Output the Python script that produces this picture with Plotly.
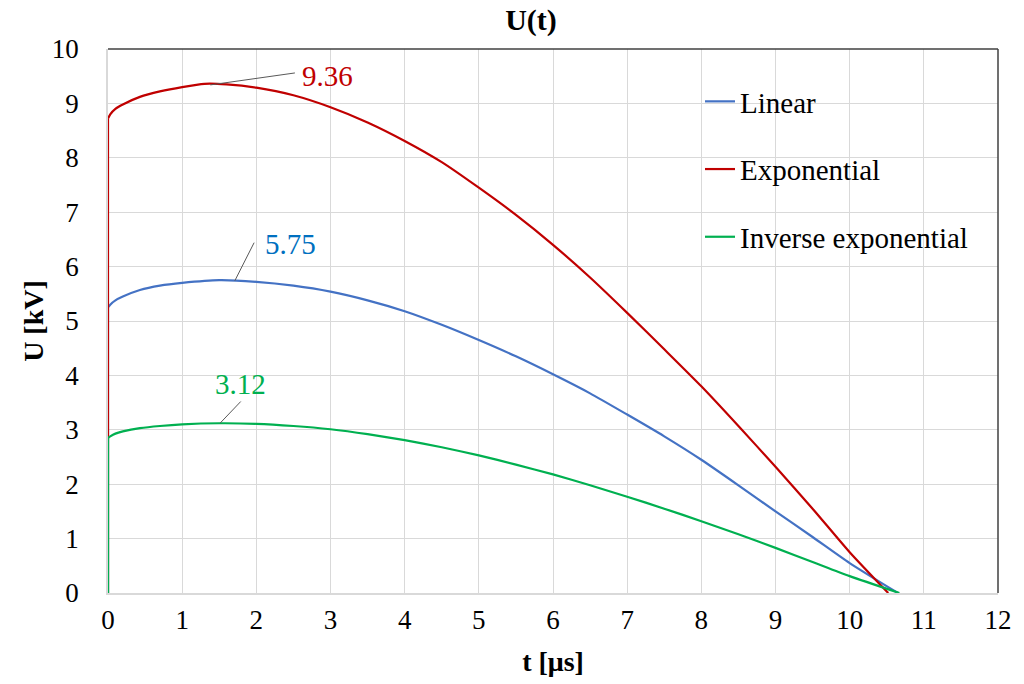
import plotly.graph_objects as go

# ---- data ----
t_lin = [0, 0, 0.03, 0.1, 0.2, 0.43, 0.7, 1.0, 1.5, 2.0, 2.5, 3.0, 3.5, 4.0, 4.5, 5.0, 5.5, 6.0, 6.5, 7.0, 7.5, 8.0, 8.5, 9.0, 9.5, 10.0, 10.65]
u_lin = [0, 5.25, 5.30, 5.38, 5.45, 5.57, 5.65, 5.70, 5.75, 5.72, 5.65, 5.54, 5.38, 5.18, 4.93, 4.65, 4.35, 4.02, 3.67, 3.28, 2.88, 2.45, 1.98, 1.50, 1.03, 0.55, 0]

t_exp = [0, 0, 0.03, 0.1, 0.2, 0.43, 0.7, 1.0, 1.3, 1.6, 2.0, 2.5, 3.0, 3.5, 4.0, 4.5, 5.0, 5.5, 6.0, 6.5, 7.0, 7.5, 8.0, 8.5, 9.0, 9.5, 10.0, 10.52]
u_exp = [0, 8.72, 8.80, 8.90, 8.98, 9.12, 9.22, 9.30, 9.36, 9.35, 9.29, 9.15, 8.93, 8.65, 8.31, 7.92, 7.45, 6.95, 6.40, 5.80, 5.15, 4.48, 3.80, 3.07, 2.32, 1.55, 0.75, 0]

t_inv = [0, 0, 0.03, 0.1, 0.2, 0.43, 0.7, 1.0, 1.5, 2.0, 2.5, 3.0, 3.5, 4.0, 4.5, 5.0, 5.5, 6.0, 6.5, 7.0, 7.5, 8.0, 8.5, 9.0, 9.5, 10.0, 10.67]
u_inv = [0, 2.85, 2.88, 2.93, 2.97, 3.03, 3.07, 3.10, 3.12, 3.11, 3.07, 3.01, 2.92, 2.81, 2.68, 2.53, 2.36, 2.18, 1.98, 1.77, 1.55, 1.32, 1.08, 0.83, 0.57, 0.31, 0]

series_names = ["Linear", "Exponential", "Inverse exponential"]
series_colors = ["#4472C4", "#C00000", "#00B050"]

# peak labels
peak_text = ["5.75", "9.36", "3.12"]
peak_label_colors = ["#0070C0", "#C00000", "#00B050"]
peak_point = [(1.71, 5.74), (1.38, 9.34), (1.51, 3.12)]
label_point = [(1.97, 6.44), (2.52, 9.56), (1.79, 3.52)]
label_text_pos = [(2.09, 6.42), (2.59, 9.50), (1.78, 3.84)]

x_ticks = list(range(0, 13))
y_ticks = list(range(0, 11))

FONT = "Liberation Serif"

fig = go.Figure()
for name, tt, uu, col in zip(series_names, [t_lin, t_exp, t_inv], [u_lin, u_exp, u_inv], series_colors):
    # vertical rise at t = 0
    fig.add_trace(go.Scatter(x=tt[:2], y=uu[:2], mode="lines", name=name, legendgroup=name,
                             showlegend=False, hoverinfo="skip",
                             line=dict(color=col, width=2.2)))
    fig.add_trace(go.Scatter(x=tt[1:], y=uu[1:], mode="lines", name=name, legendgroup=name,
                             line=dict(color=col, width=2.2, shape="spline", smoothing=0.6)))

shapes = []
# white box behind legend (covers gridlines)
shapes.append(dict(type="rect", xref="paper", yref="paper", x0=(688 - 108) / 890, x1=1,
                   y0=(593 - 270) / 544, y1=(593 - 70) / 544, fillcolor="white",
                   line=dict(width=0), layer="between"))
# top and right border
shapes.append(dict(type="line", xref="paper", yref="paper", x0=0, x1=1, y0=1, y1=1,
                   line=dict(color="#404040", width=1.5)))
shapes.append(dict(type="line", xref="paper", yref="paper", x0=1, x1=1, y0=0, y1=1,
                   line=dict(color="#404040", width=1.5)))

annotations = []
for i, (txt, col, (px, py), (lx, ly), (tx, ty)) in enumerate(zip(peak_text, peak_label_colors, peak_point,
                                                                 label_point, label_text_pos)):
    shapes.append(dict(type="line", xref="x", yref="y", x0=px, y0=py, x1=lx, y1=ly,
                       line=dict(color="#595959", width=1)))
    annotations.append(dict(x=tx, y=ty, xref="x", yref="y", text=txt, showarrow=False,
                            xanchor="center" if i == 2 else "left", yanchor="middle",
                            font=dict(family=FONT, size=29, color=col)))

fig.update_layout(
    width=1024, height=684,
    margin=dict(l=108, r=26, t=49, b=91),
    paper_bgcolor="white", plot_bgcolor="white",
    font=dict(family=FONT, size=27, color="black"),
    title=dict(text="<b>U(t)</b>", x=531 / 1024, xanchor="center", y=1 - 19 / 684,
               yanchor="middle", font=dict(family=FONT, size=30, color="black")),
    showlegend=True,
    legend=dict(x=(700 - 108) / 890, xanchor="left", y=(593 - 76) / 544, yanchor="top",
                bgcolor="rgba(0,0,0,0)", tracegroupgap=27,
                font=dict(family=FONT, size=29, color="black"), itemwidth=30),
    shapes=shapes,
    annotations=annotations,
)
fig.update_xaxes(range=[0, 12], tickvals=x_ticks, showgrid=True, gridcolor="#D9D9D9",
                 gridwidth=1, zeroline=False, showline=True, linecolor="#D9D9D9", linewidth=1.5,
                 ticks="outside", ticklen=2, tickcolor="rgba(0,0,0,0)",
                 title=dict(text="<b>t [μs]</b>", standoff=17, font=dict(family=FONT, size=28)),
                 tickfont=dict(family=FONT, size=27))
fig.update_yaxes(range=[0, 10], tickvals=y_ticks, showgrid=True, gridcolor="#D9D9D9",
                 gridwidth=1, zeroline=False, showline=True, linecolor="#D9D9D9", linewidth=1.5,
                 ticks="outside", ticklen=22, tickcolor="rgba(0,0,0,0)",
                 title=dict(text="<b>U [kV]</b>", standoff=0, font=dict(family=FONT, size=28)),
                 tickfont=dict(family=FONT, size=27))

fig.write_html("out.html")
